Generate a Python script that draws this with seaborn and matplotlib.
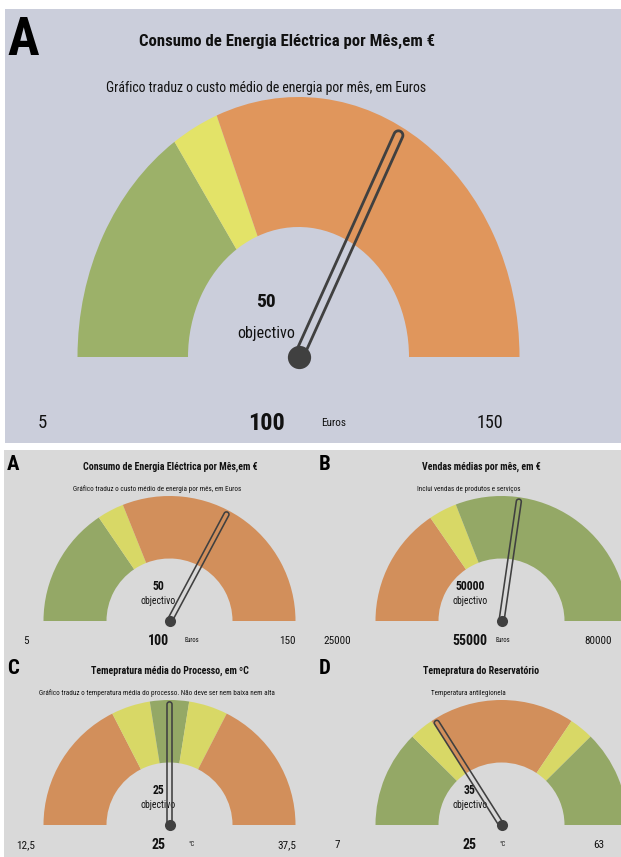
import numpy as np
import matplotlib
matplotlib.use("Agg")
import matplotlib.pyplot as plt
from matplotlib.patches import Wedge, Polygon
from matplotlib import font_manager
import seaborn as sns

# ---- gauge data -------------------------------------------------------
panel_letters = ["A", "A", "B", "C", "D"]
titles = [
    "Consumo de Energia Eléctrica por Mês,em €",
    "Consumo de Energia Eléctrica por Mês,em €",
    "Vendas médias por mês, em €",
    "Temepratura média do Processo, em ºC",
    "Temepratura do Reservatório",
]
subtitles = [
    "Gráfico traduz o custo médio de energia por mês, em Euros",
    "Gráfico traduz o custo médio de energia por mês, em Euros",
    "Inclui vendas de produtos e serviços",
    "Gráfico traduz o temperatura média do processo. Não deve ser nem baixa nem alta",
    "Temperatura antilegionela",
]
scale_min = [5, 5, 25000, 12.5, 7]
scale_max = [150, 150, 80000, 37.5, 63]
targets = [50, 50, 50000, 25, 35]
values = [100, 100, 55000, 25, 25]
units = ["Euros", "Euros", "Euros", "°C", "°C"]
band_edges = [
    [5, 50, 60, 150],
    [5, 50, 60, 150],
    [25000, 42000, 46000, 80000],
    [12.5, 21.25, 23.75, 26.25, 28.75, 37.5],
    [7, 21, 24.5, 45.5, 49, 63],
]
band_status = [
    ["good", "warn", "bad"],
    ["good", "warn", "bad"],
    ["bad", "warn", "good"],
    ["bad", "warn", "good", "warn", "bad"],
    ["good", "warn", "bad", "warn", "good"],
]

# ---- styling ----------------------------------------------------------
sns.set_theme(style="white")
weights = {}
for f in font_manager.fontManager.ttflist:
    w = f.weight if isinstance(f.weight, int) else (700 if "bold" in str(f.weight) else 400)
    weights.setdefault(f.name, set()).add(w)
narrow = "Liberation Sans"
for cand in ["Liberation Sans Narrow", "Arial Narrow", "Nimbus Sans Narrow", "Roboto Condensed",
             "PT Sans Narrow", "Asap Condensed", "Barlow Semi Condensed", "Barlow Condensed"]:
    ws = weights.get(cand, set())
    if 400 in ws and any(w >= 700 for w in ws):
        narrow = cand
        break
plt.rcParams["font.family"] = [narrow, "DejaVu Sans"]

big_palette = {"good": "#9cb169", "warn": "#e3e368", "bad": "#e0965c"}
small_palette = {"good": "#94a866", "warn": "#d8d866", "bad": "#d28f5b"}
needle_color = "#404040"

W, H, DPI = 621, 857, 100
fig = plt.figure(figsize=(W / DPI, H / DPI), dpi=DPI)
fig.patch.set_facecolor("white")

# panel boxes in pixels (x0, y0, x1, y1), gauge centre (px), radii (px)
panels = [
    dict(box=(5, 9, 621, 443), c=(298.5, 357), r=(221, 260), bg="#cbcedb", big=True, dx=0.0),
    dict(box=(4, 450, 310, 650), c=(169.5, 621), r=(126, 125), bg="#d9d9d9", big=False, dx=0.0),
    dict(box=(310, 450, 621, 650), c=(501.5, 621), r=(126, 125), bg="#d9d9d9", big=False, dx=-0.163),
    dict(box=(4, 650, 310, 857), c=(169.5, 825), r=(126, 125), bg="#d9d9d9", big=False, dx=0.0),
    dict(box=(310, 650, 621, 857), c=(501.5, 825), r=(126, 125), bg="#d9d9d9", big=False, dx=-0.163),
]

# text layout in gauge radius units (x relative to centre, y relative to baseline), font size
layout_big = dict(letter=(-1.319, 1.315, 38), title=(-0.052, 1.212, 12.1), sub=(-0.149, 1.035, 9.9),
                  target=(-0.147, 0.212, 14), obj=(-0.147, 0.092, 11.5), row=-0.254,
                  lo=(-1.161, 13.5), val=(-0.147, 17.5), unit=(0.161, 8), hi=(0.867, 13))
layout_small = dict(letter=(-1.29, 1.324, 15), title=(0.004, 1.232, 7.1), sub=(-0.099, 1.052, 5.1),
                    target=(-0.087, 0.28, 8.5), obj=(-0.087, 0.16, 7), row=-0.16,
                    lo=(-1.14, 8), val=(-0.09, 10), unit=(0.175, 4.8), hi=(0.933, 8))


def fmt(v):
    return f"{v:g}".replace(".", ",")


def to_angle(v, lo, hi):
    return 180.0 - 180.0 * (v - lo) / (hi - lo)


def draw_needle(ax, ang_deg, length, width_px, lw_px):
    t = np.deg2rad(ang_deg)
    p0 = ax.transData.transform((0.0, 0.0))
    p1 = ax.transData.transform((length * np.cos(t), length * np.sin(t)))
    d = p1 - p0
    a = np.arctan2(d[1], d[0])
    rr = width_px / 2
    t1 = np.linspace(a + np.pi / 2, a - np.pi / 2, 24)
    t0 = np.linspace(a - np.pi / 2, a - 3 * np.pi / 2, 24)
    pts = np.vstack([p1 + rr * np.c_[np.cos(t1), np.sin(t1)],
                     p0 + rr * np.c_[np.cos(t0), np.sin(t0)]])
    data_pts = ax.transData.inverted().transform(pts)
    ax.add_patch(Polygon(data_pts, closed=True, fill=False, edgecolor=needle_color,
                         linewidth=lw_px * 72 / DPI, joinstyle="round", zorder=5))


for i, p in enumerate(panels):
    x0, y0, x1, y1 = p["box"]
    cx, cy = p["c"]
    rx, ry = p["r"]
    ax = fig.add_axes([x0 / W, 1 - y1 / H, (x1 - x0) / W, (y1 - y0) / H])
    ax.set_facecolor(p["bg"])
    ax.set_xticks([])
    ax.set_yticks([])
    sns.despine(ax=ax, left=True, bottom=True)
    xlim = ((x0 - cx) / rx, (x1 - cx) / rx)
    ylim = ((cy - y1) / ry, (cy - y0) / ry)
    ax.set_xlim(*xlim)
    ax.set_ylim(*ylim)

    lo, hi = scale_min[i], scale_max[i]
    pal = big_palette if p["big"] else small_palette
    edges = band_edges[i]
    for k, status in enumerate(band_status[i]):
        a_hi = to_angle(edges[k], lo, hi)
        a_lo = to_angle(edges[k + 1], lo, hi)
        ax.add_patch(Wedge((0, 0), 1.0, a_lo, a_hi, width=0.5,
                           facecolor=pal[status], edgecolor="none", zorder=2))

    L = layout_big if p["big"] else layout_small
    dx = p["dx"]
    txt = dict(color="#111111", zorder=1)
    lx, ly, ls = L["letter"]
    ax.text(lx + dx, ly, panel_letters[i], fontsize=ls, fontweight="bold",
            ha="left", va="top", color="black", zorder=1)
    tx, ty, ts = L["title"]
    ax.text(tx + dx, ty, titles[i], fontsize=ts, fontweight="bold", ha="center", va="center", **txt)
    sx, sy, ss = L["sub"]
    ax.text(sx + dx, sy, subtitles[i], fontsize=ss, ha="center", va="center", **txt)
    gx, gy, gs = L["target"]
    ax.text(gx + dx, gy, fmt(targets[i]), fontsize=gs, fontweight="bold", ha="center", va="center", **txt)
    ox, oy, os_ = L["obj"]
    ax.text(ox + dx, oy, "objectivo", fontsize=os_, ha="center", va="center", **txt)
    row = L["row"]
    ax.text(L["lo"][0] + dx, row, fmt(lo), fontsize=L["lo"][1], ha="center", va="center", **txt)
    ax.text(L["val"][0] + dx, row, fmt(values[i]), fontsize=L["val"][1], fontweight="bold",
            ha="center", va="center", **txt)
    ax.text(L["unit"][0] + dx, row, units[i], fontsize=L["unit"][1], ha="center", va="center", **txt)
    ax.text(L["hi"][0] + dx, row, fmt(hi), fontsize=L["hi"][1], ha="center", va="center", **txt)

    # needle and pivot
    ang = to_angle(values[i], lo, hi)
    if p["big"]:
        draw_needle(ax, ang, 0.965, 9.0, 2.8)
        pivot_size = 280
    else:
        draw_needle(ax, ang, 0.965, 5.0, 1.6)
        pivot_size = 64
    sns.scatterplot(x=[0.0], y=[0.0], s=pivot_size, color=needle_color, linewidth=0,
                    legend=False, ax=ax, zorder=6)
    ax.set_xlabel("")
    ax.set_ylabel("")
    ax.set_xlim(*xlim)
    ax.set_ylim(*ylim)

fig.savefig("out.png", dpi=DPI)
